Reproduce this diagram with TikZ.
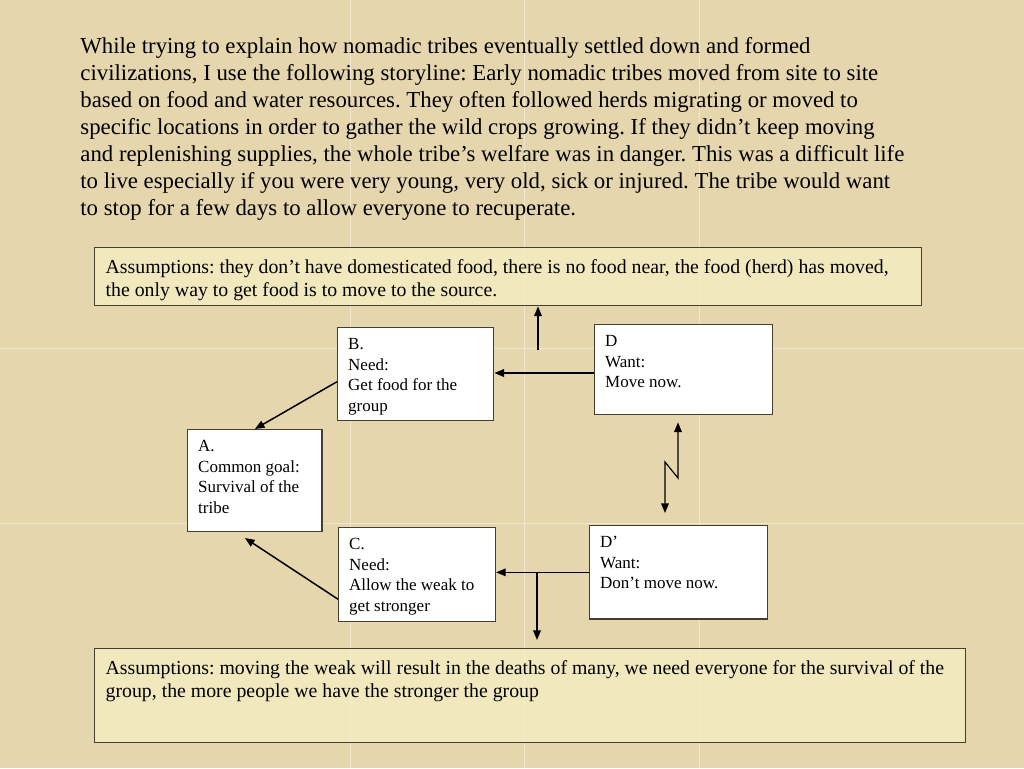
\documentclass[tikz,border=0pt]{standalone}
\usepackage{fontspec}
\setmainfont{Liberation Serif}
\usetikzlibrary{arrows.meta,calc}

\definecolor{parchment}{RGB}{229,214,174}
\definecolor{seam}{RGB}{250,246,232}
\definecolor{cream}{RGB}{247,241,198}
\definecolor{edge}{RGB}{72,62,46}
\frenchspacing

\begin{document}
\begin{tikzpicture}[x=0.5pt, y=-0.5pt,
    >={Triangle[length=4.8pt,width=3.8pt]},
    card/.style 2 args={draw=edge, line width=0.7pt, fill=white, anchor=north west,
        inner xsep=5.25pt, inner ysep=5.4pt, font=\fontsize{8.5}{10.25}\selectfont,
        execute at begin node={\begin{minipage}[t][#2][t]{#1}\raggedright},
        execute at end node={\end{minipage}}},
    assum/.style 2 args={card={#1}{#2}, fill=cream, fill opacity=0.7, text opacity=1,
        inner xsep=5.5pt, inner ysep=6pt, font=\fontsize{9.9}{11.5}\selectfont},
    story/.style={anchor=north west, inner sep=0pt, align=left, font=\fontsize{11.4}{13.5}\selectfont},
    seamline/.style={draw=seam, line width=0.5pt, opacity=0.55},
    arr/.style={->, line width=0.75pt},
    darr/.style={<->, line width=0.6pt},
]
\useasboundingbox (0,0) rectangle (1024,768);

% --- Background ---
\fill[parchment] (0,0) rectangle (1024,768);
\foreach \sx in {350,524,699} \draw[seamline] (\sx,0) -- (\sx,768);
\foreach \sy in {348,523} \draw[seamline] (0,\sy) -- (1024,\sy);

% --- Storyline ---
\node[story] (story) at (80,37.4) {While trying to explain how nomadic tribes eventually settled down and formed\\
civilizations, I use the following storyline: Early nomadic tribes moved from site to site\\
based on food and water resources. They often followed herds migrating or moved to\\
specific locations in order to gather the wild crops growing. If they didn’t keep moving\\
and replenishing supplies, the whole tribe’s welfare was in danger. This was a difficult life\\
to live especially if you were very young, very old, sick or injured. The tribe would want\\
to stop for a few days to allow everyone to recuperate.};

% --- Assumption boxes ---
\node[assum={402.5pt}{17pt}] (assumTop) at (94,247) {Assumptions: they don’t have domesticated food, there is no food near, the food (herd) has moved,\\
the only way to get food is to move to the source.};
\node[assum={424.5pt}{35pt}] (assumBot) at (94,648) {Assumptions: moving the weak will result in the deaths of many, we need everyone for the survival of the\\
group, the more people we have the stronger the group};

% --- Cards ---
\node[card={67.5pt}{35.7pt}] (B) at (337,327) {B.\\ Need:\\ Get food for the\\ group};
\node[card={78.5pt}{34.2pt}] (D) at (594,324) {D\\ Want:\\ Move now.};
\node[card={56.7pt}{40pt}] (A) at (187,429) {A.\\ Common goal:\\ Survival of the\\ tribe};
\node[card={67.85pt}{36.2pt}] (C) at (338,527) {C.\\ Need:\\ Allow the weak to\\ get stronger};
\node[card={78.35pt}{35.85pt}] (Dp) at (589,525) {D’\\ Want:\\ Don’t move now.};

% --- Arrows: top branch ---
\coordinate (split) at (538,373);
\draw[arr] (D.west |- split) -- (B.east |- split);
\coordinate (upfoot) at (538,350);
\draw[arr] (upfoot) -- (upfoot |- assumTop.south);
\draw[arr] ($(B.west)+(0,7.5)$) -- (A.north);

% --- Arrows: bottom branch ---
\draw[arr] (Dp.west) -- (Dp.west -| C.east);
\coordinate (drop) at (537,572);
\draw[arr, shorten >=4pt] (drop) -- (drop |- assumBot.north);
\draw[arr] ($(C.west)+(0,24.5)$) -- ($(A.south)+(-10,6)$);

% --- Conflict between D and D' ---
\coordinate (kinkL) at (665,462);
\coordinate (kinkR) at (678,478);
\draw[darr] ($(Dp.north -| kinkL)+(0,-12)$) -- (kinkL) -- (kinkR) -- ($(D.south -| kinkR)+(0,7)$);

\end{tikzpicture}
\end{document}
